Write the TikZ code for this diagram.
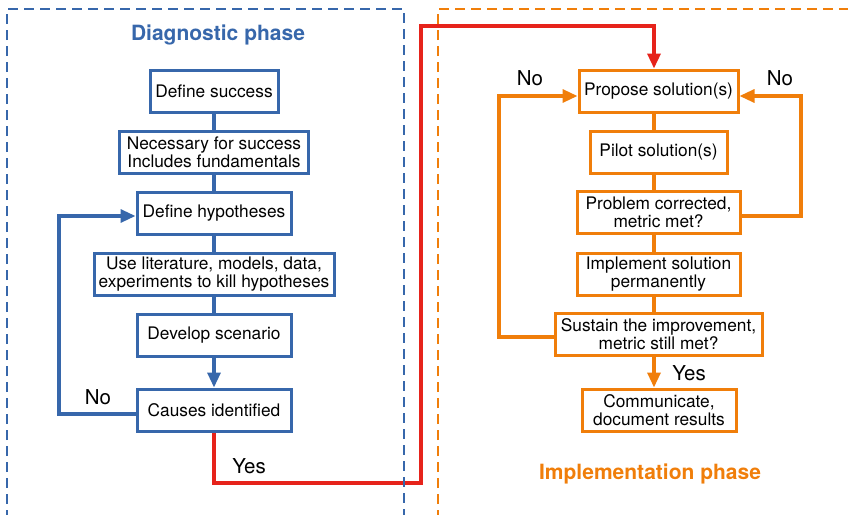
\documentclass[tikz,border=0pt]{standalone}
\usepackage{fontspec}
\setmainfont{TeX Gyre Heros}
\usetikzlibrary{arrows.meta}
\definecolor{dblue}{HTML}{3767AB}
\definecolor{dorange}{HTML}{F07E0A}
\definecolor{dred}{HTML}{E6231B}
\tikzset{
  box/.style={draw, line width=3pt, fill=white, align=center, minimum height=42pt, inner sep=2pt, font=\fontsize{17.3}{18}\selectfont},
  bbox/.style={box, draw=dblue},
  obox/.style={box, draw=dorange},
  conn/.style={line width=3.2pt, line join=miter},
  bconn/.style={conn, draw=dblue},
  oconn/.style={conn, draw=dorange},
  rconn/.style={conn, draw=dred, line width=3.4pt},
  tip/.style={-{Triangle[length=15pt,width=13pt]}},
  phase/.style={dash pattern=on 10pt off 6pt, line width=1.8pt},
  lbl/.style={font=\fontsize{20.5}{22}\selectfont, inner sep=0pt},
  ttl/.style={font=\fontsize{21}{24}\selectfont\bfseries, inner sep=0pt}
}
\begin{document}
\begin{tikzpicture}[x=1pt,y=-1pt]
\useasboundingbox (0,0) rectangle (848,514);
\clip (0,0) rectangle (848,514);
\node[ttl, text=dblue] (t1) at (218,35) {Diagnostic phase};
\node[ttl, text=dorange] (t2) at (650,474) {Implementation phase};
% left column
\node[bbox, minimum width=128pt] (ds) at (214,91.5) {Define success};
\node[bbox, minimum width=189pt] (nec) at (214,152) {Necessary for success\\Includes fundamentals};
\node[bbox, minimum width=154pt] (dh) at (214,213) {Define hypotheses};
\node[bbox, minimum width=240pt] (lit) at (214,274) {Use literature, models, data,\\experiments to kill hypotheses};
\node[bbox, minimum width=154pt] (dev) at (214,335) {Develop scenario};
\node[bbox, minimum width=154pt] (ci) at (214,410) {Causes identified};
% right column
\coordinate (rsp) at (654,0);
\node[obox, minimum width=159pt] (ps) at (658.5,91) {Propose solution(s)};
\node[obox, minimum width=137pt] (pil) at (658.5,152) {Pilot solution(s)};
\node[obox, minimum width=163pt] (pc) at (658.5,212.5) {Problem corrected,\\metric met?};
\node[obox, minimum width=163pt] (imp) at (658.5,274) {Implement solution\\permanently};
\node[obox, minimum width=207pt] (sus) at (658.5,334.5) {Sustain the improvement,\\metric still met?};
\node[obox, minimum width=154pt] (com) at (659,410) {Communicate,\\document results};
% left connectors
\draw[bconn] (ds.south) -- (nec.north);
\draw[bconn] (nec.south) -- (dh.north);
\draw[bconn] (dh.south) -- (lit.north);
\draw[bconn] (lit.south) -- (dev.north);
\draw[bconn, tip] (dev.south) -- (ci.north);
\coordinate (lb) at (59,414);
\draw[bconn, tip] ([yshift=-4pt]ci.west) -- (lb) |- ([yshift=-3pt]dh.west);
\node[lbl] (no1) at (98,397) {No};
% red connector
\coordinate (r1) at (214,483);
\coordinate (r2) at (421,483);
\coordinate (r3) at (421,26);
\draw[rconn, tip] (ci.south) -- (r1) -- (r2) -- (r3) -| (ps.north -| rsp);
\node[lbl] (yes1) at (249,466) {Yes};
% right connectors
\draw[oconn] (ps.south -| rsp) -- (pil.north -| rsp);
\draw[oconn] (pil.south -| rsp) -- (pc.north -| rsp);
\draw[oconn] (pc.south -| rsp) -- (imp.north -| rsp);
\draw[oconn] (imp.south -| rsp) -- (sus.north -| rsp);
\draw[oconn, tip] (sus.south -| rsp) -- (com.north -| rsp);
\coordinate (rr) at (801,216);
\draw[oconn, tip] ([yshift=-3.5pt]pc.east) -- (rr) |- ([yshift=-5pt]ps.east);
\coordinate (rl) at (499,337);
\draw[oconn, tip] ([yshift=-2.5pt]sus.west) -- (rl) |- ([yshift=-5pt]ps.west);
\node[lbl] (no2) at (530,78) {No};
\node[lbl] (no3) at (780,78) {No};
\node[lbl] (yes2) at (689,373) {Yes};
% phase frames (drawn over the red connector, as in the reference)
\draw[phase, dblue] (7,520) -- (7,9) -- (404,9) -- (404,520);
\draw[phase, dorange] (438,520) -- (438,9) -- (860,9);
\end{tikzpicture}
\end{document}
